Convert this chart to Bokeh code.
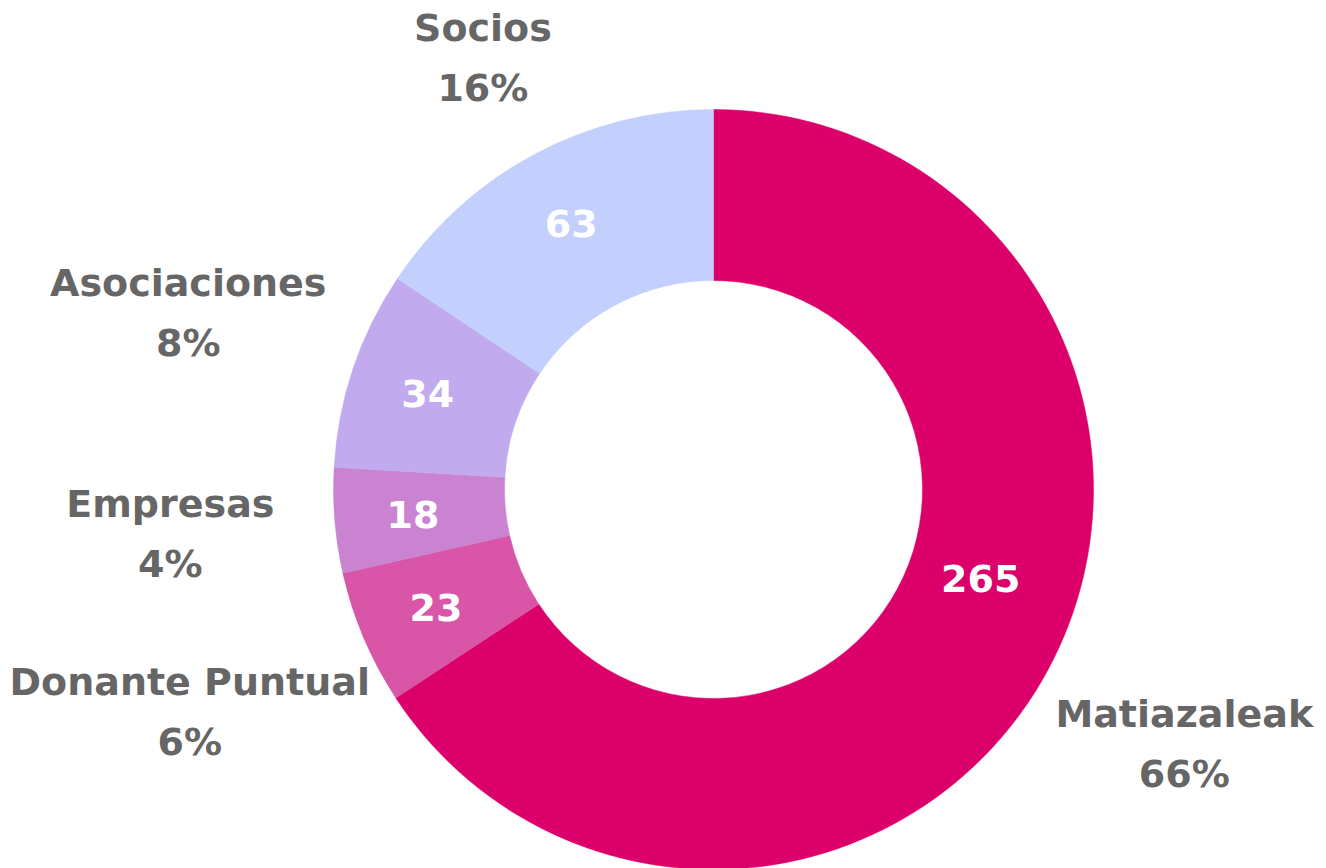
import math
from bokeh.plotting import figure
from bokeh.models import Range1d, ColumnDataSource
from bokeh.core.properties import value
from bokeh.embed import file_html
from bokeh.resources import INLINE

categories = ["Matiazaleak", "Donante Puntual", "Empresas", "Asociaciones", "Socios"]
values = [265, 23, 18, 34, 63]
colors = ["#DC006B", "#D955A7", "#C983D1", "#C1ABEE", "#C3CFFD"]

# layout (not data): distance of each outer label block from the centre,
# and small nudges (degrees counter-clockwise, pixels radial) for inner value labels
label_radius = [535, 569, 545, 554, 489]
value_nudge = [10, 0, 0, 0, 0]
value_rnudge = [-20, 0, 0, 0, 0]

W, H = 1326, 868
CX, CY = 713, 379
R_OUT, R_IN = 380, 209
FONT = "DejaVu Sans"
FS = "38px"

total = sum(values)
pcts = [f"{round(v / total * 100)}%" for v in values]

starts, ends, mids = [], [], []
cum = 0
for v in values:
    a0 = math.pi / 2 - 2 * math.pi * cum / total
    cum += v
    a1 = math.pi / 2 - 2 * math.pi * cum / total
    starts.append(a0)
    ends.append(a1)
    mids.append((a0 + a1) / 2)

p = figure(width=W, height=H, output_backend="svg", toolbar_location=None,
           x_range=Range1d(0, W), y_range=Range1d(0, H), min_border=0)
p.axis.visible = False
p.grid.visible = False
p.outline_line_color = None
p.background_fill_color = "white"

src = ColumnDataSource(dict(start=starts, end=ends, color=colors))
p.annular_wedge(x=CX, y=CY, inner_radius=R_IN, outer_radius=R_OUT,
                start_angle="start", end_angle="end", direction="clock",
                fill_color="color", line_color="color", line_width=0.5, source=src)

# inner value labels
r_mid = (R_IN + R_OUT) / 2 + 7
va = [a + math.radians(n) for a, n in zip(mids, value_nudge)]
vr = [r_mid + d for d in value_rnudge]
vx = [CX + r * math.cos(a) for r, a in zip(vr, va)]
vy = [CY + r * math.sin(a) for r, a in zip(vr, va)]
p.text(x=vx, y=vy, text=[str(v) for v in values], text_color="white",
       text_font=value(FONT), text_font_style="bold", text_font_size=FS,
       text_align="center", text_baseline="middle")

# outer labels
nx, ny, py = [], [], []
for r, a in zip(label_radius, mids):
    bx = CX + r * math.cos(a)
    by = CY + r * math.sin(a)
    nx.append(bx); ny.append(by + 30); py.append(by - 30)
p.text(x=nx, y=ny, text=categories, text_color="#666666",
       text_font=value(FONT), text_font_style="bold", text_font_size=FS,
       text_align="center", text_baseline="middle")
p.text(x=nx, y=py, text=pcts, text_color="#666666",
       text_font=value(FONT), text_font_style="bold", text_font_size=FS,
       text_align="center", text_baseline="middle")

open("out.html", "w").write(file_html(p, INLINE))
